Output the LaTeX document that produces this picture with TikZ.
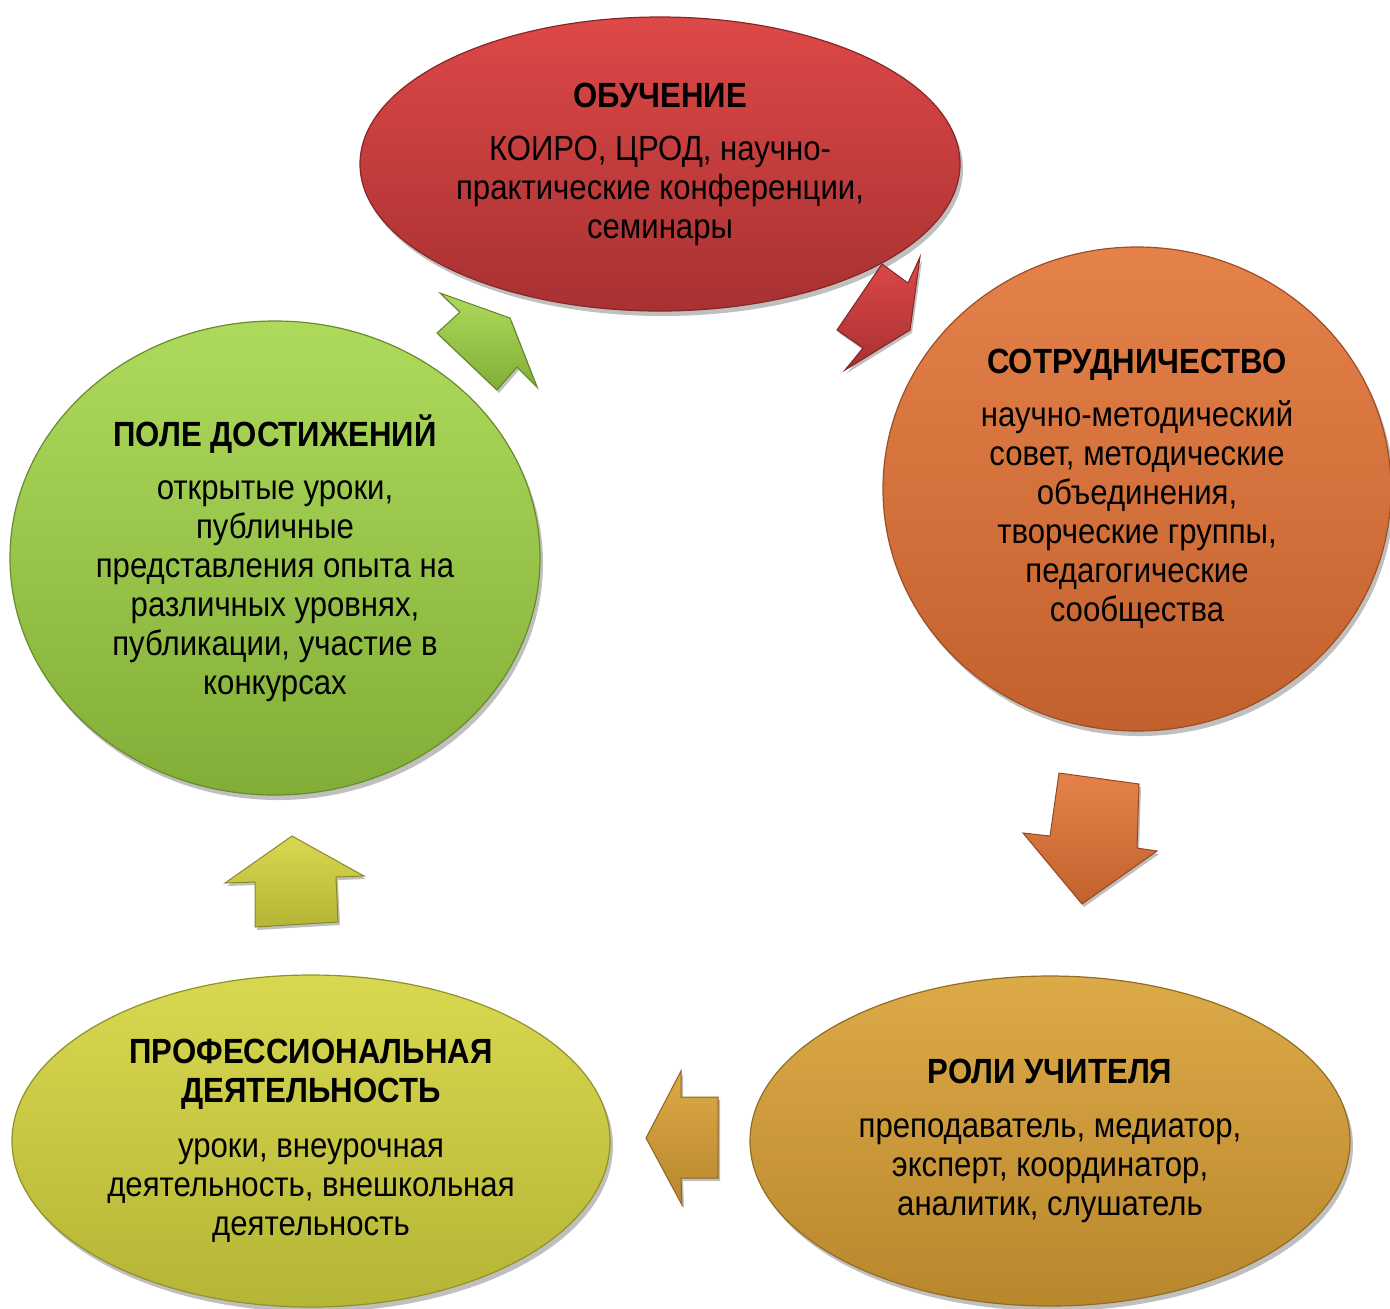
\documentclass[tikz,border=0pt]{standalone}
\usepackage{fontspec}
\setmainfont[FakeStretch=0.89]{Liberation Sans}
\usetikzlibrary{shadows,shapes.geometric}
\definecolor{redT}{HTML}{DE4848}\definecolor{redB}{HTML}{A83131}
\definecolor{orT}{HTML}{E5824A}\definecolor{orB}{HTML}{C3612E}
\definecolor{goT}{HTML}{DDAA48}\definecolor{goB}{HTML}{B8872C}
\definecolor{yeT}{HTML}{D8D850}\definecolor{yeB}{HTML}{B5B536}
\definecolor{grT}{HTML}{AEDA5C}\definecolor{grB}{HTML}{82AE38}
\tikzset{
  blob/.style 2 args={ellipse, inner sep=0pt, outer sep=0pt, align=center,
    top color=#1T, bottom color=#1B, draw=#1B!80!black, line width=0.6pt,
    drop shadow={shadow xshift=1.5pt, shadow yshift=-2.5pt, opacity=0.25, fill=black},
    font=\fontsize{17.5}{19.5}\selectfont, #2},
  blockarrow/.style={top color=#1T, bottom color=#1B, draw=#1B!75!black, line width=0.5pt, line join=miter,
    drop shadow={shadow xshift=1pt, shadow yshift=-1.5pt, opacity=0.25, fill=black}}
}
\newcommand{\hd}[1]{{\bfseries #1}}
\begin{document}
\begin{tikzpicture}[x=0.5pt,y=-0.5pt]
\useasboundingbox (0,0) rectangle (1390,1308);
\node[blob={red}{minimum width=300pt, minimum height=147pt}] (obuch) at (660,164)
  {\hd{ОБУЧЕНИЕ}\\[7pt]КОИРО, ЦРОД, научно-\\практические конференции,\\семинары};
\node[blob={or}{minimum width=254pt, minimum height=242pt}] (sotr) at (1137,489)
  {\hd{СОТРУДНИЧЕСТВО}\\[7pt]научно-методический\\совет, методические\\объединения,\\творческие группы,\\педагогические\\сообщества};
\node[blob={go}{minimum width=300pt, minimum height=165pt}] (roli) at (1050,1141)
  {\hd{РОЛИ УЧИТЕЛЯ}\\[7.5pt]преподаватель, медиатор,\\эксперт, координатор,\\аналитик, слушатель};
\node[blob={ye}{minimum width=299pt, minimum height=166pt}] (prof) at (311,1141)
  {\hd{ПРОФЕССИОНАЛЬНАЯ}\\\hd{ДЕЯТЕЛЬНОСТЬ}\\[8pt]уроки, внеурочная\\деятельность, внешкольная\\деятельность};
\node[blob={gr}{minimum width=265pt, minimum height=237pt}] (pole) at (275,558)
  {\hd{ПОЛЕ ДОСТИЖЕНИЙ}\\[7pt]открытые уроки,\\публичные\\представления опыта на\\различных уровнях,\\публикации, участие в\\конкурсах};
% block arrows
\path[blockarrow=red] (882,264) -- (908,283) -- (920,257) -- (910,330) -- (845,370) -- (863,348) -- (837,330) -- cycle;
\path[blockarrow=or] (1059,773) -- (1139,784) -- (1137,848) -- (1157,851) -- (1082,904) -- (1023,833) -- (1050,836) -- cycle;
\path[blockarrow=go] (646,1138) -- (681,1071) -- (681,1097) -- (718,1097) -- (718,1178) -- (681,1178) -- (682,1205) -- cycle;
\path[blockarrow=ye] (292,836) -- (364,876) -- (336,877) -- (338,922) -- (255,927) -- (255,882) -- (225,883) -- cycle;
\path[blockarrow=gr] (437,333) -- (460,312) -- (440,293) -- (510,318) -- (537,387) -- (517,367) -- (497,390) -- cycle;
\end{tikzpicture}
\end{document}
